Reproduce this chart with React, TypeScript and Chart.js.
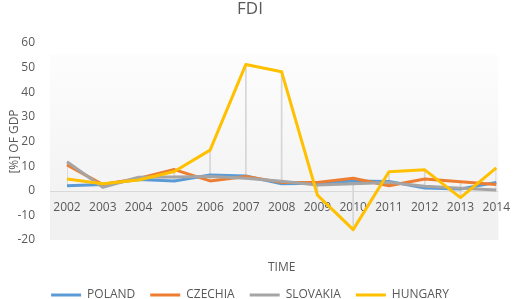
import React, { useEffect, useRef } from "react";
import { Chart, registerables } from "chart.js";

Chart.register(...registerables);

const years = ["2002", "2003", "2004", "2005", "2006", "2007", "2008", "2009", "2010", "2011", "2012", "2013", "2014"];
const poland = [2.0, 2.5, 4.6, 4.0, 6.4, 6.0, 2.8, 3.0, 4.0, 3.8, 1.1, 0.7, 3.4];
const czechia = [10.5, 2.5, 5.0, 8.6, 4.0, 5.8, 3.4, 3.4, 5.1, 2.0, 4.8, 3.7, 2.5];
const slovakia = [11.8, 1.4, 5.5, 5.6, 5.8, 5.1, 3.9, 2.3, 2.8, 3.4, 1.8, 1.0, 0.3];
const hungary = [4.8, 2.8, 4.4, 7.8, 16.5, 51.3, 48.3, -1.8, -15.8, 7.7, 8.5, -2.8, 9.3];
const yTicks = { min: -20, max: 60, step: 10 };

const TEXT = "#595959";
const FONT = "'Open Sans', 'Noto Sans', sans-serif";

const highLow = years.map((_, i) => {
  const v = [poland[i], czechia[i], slovakia[i], hungary[i]];
  return [Math.min(...v), Math.max(...v)];
});

const backgroundPlugin = {
  id: "plotBackground",
  beforeDraw(chart: any) {
    const { ctx, chartArea, scales } = chart;
    const left = chartArea.left - 17;
    const right = chartArea.right + 2;
    const top = chartArea.top + 11;
    const bottom = chartArea.bottom;
    const zeroY = scales.y.getPixelForValue(0);
    ctx.save();
    const g = ctx.createLinearGradient(0, top, 0, zeroY);
    g.addColorStop(0, "#fdfdfd");
    g.addColorStop(1, "#f3f3f3");
    ctx.fillStyle = g;
    ctx.fillRect(left, top, right - left, zeroY - top);
    ctx.fillStyle = "#f1f1f1";
    ctx.fillRect(left, zeroY, right - left, bottom - zeroY);
    ctx.strokeStyle = "#d9d9d9";
    ctx.lineWidth = 1;
    ctx.beginPath();
    ctx.moveTo(left, Math.round(zeroY) + 0.5);
    ctx.lineTo(right, Math.round(zeroY) + 0.5);
    ctx.stroke();
    ctx.restore();
  },
};

function lineDs(label: string, data: number[], color: string, order: number) {
  return {
    type: "line" as const,
    label,
    data,
    borderColor: color,
    backgroundColor: color,
    borderWidth: 3,
    pointRadius: 0,
    tension: 0,
    borderJoinStyle: "round" as const,
    fill: false,
    order,
  };
}

export default function App() {
  const ref = useRef<HTMLCanvasElement | null>(null);
  useEffect(() => {
    if (!ref.current) return;
    Chart.defaults.font.family = FONT;
    const chart = new Chart(ref.current, {
      type: "line",
      data: {
        labels: years,
        datasets: [
          lineDs("POLAND", poland, "#5B9BD5", 3),
          lineDs("CZECHIA", czechia, "#ED7D31", 2),
          lineDs("SLOVAKIA", slovakia, "#A5A5A5", 1),
          lineDs("HUNGARY", hungary, "#FFC000", 0),
          {
            type: "bar" as const,
            label: "high-low",
            data: highLow as any,
            backgroundColor: "#d6d6d6",
            borderWidth: 0,
            barThickness: 1,
            order: 10,
          } as any,
        ],
      },
      options: {
        animation: false,
        responsive: true,
        maintainAspectRatio: false,
        layout: { padding: { left: 0, right: 20, top: 0, bottom: -12 } },
        plugins: {
          title: {
            display: true,
            text: "FDI",
            color: TEXT,
            font: { family: FONT, size: 17, weight: "normal", lineHeight: 1 },
            padding: { top: 1, bottom: 25 },
          },
          subtitle: {
            display: true,
            text: "TIME",
            position: "bottom",
            fullSize: false,
            color: TEXT,
            font: { family: FONT, size: 12, weight: "normal", lineHeight: 1 },
            padding: { top: 22, bottom: 0 },
          } as any,
          legend: {
            position: "bottom",
            weight: 2000,
            labels: {
              usePointStyle: true,
              pointStyle: "line",
              pointStyleWidth: 30,
              padding: 15,
              color: TEXT,
              font: { family: FONT, size: 12 },
              filter: (item: any) => item.datasetIndex < 4,
              sort: (a: any, b: any) => a.datasetIndex - b.datasetIndex,
            },
          } as any,
          tooltip: { enabled: false },
        },
        scales: {
          x: {
            type: "category",
            position: { y: 0 } as any,
            offset: false,
            grid: { display: false, drawTicks: false },
            border: { display: false },
            ticks: {
              color: TEXT,
              font: { family: FONT, size: 12 },
              padding: 10,
              maxRotation: 0,
              autoSkip: false,
            },
          },
          y: {
            min: yTicks.min,
            max: yTicks.max,
            grid: { display: false, drawTicks: false },
            border: { display: false },
            ticks: {
              stepSize: yTicks.step,
              color: TEXT,
              font: { family: FONT, size: 12 },
              padding: 32,
            },
            title: {
              display: true,
              text: "[%] OF GDP",
              color: TEXT,
              font: { family: FONT, size: 12 },
              padding: { top: 7, bottom: 0 },
            },
            afterFit: (s: any) => {
              s.width = 67;
            },
          },
        },
      },
      plugins: [backgroundPlugin],
    });
    return () => chart.destroy();
  }, []);
  return (
    <div style={{ position: "absolute", left: 0, top: 0, width: 520, height: 299, background: "#fff" }}>
      <canvas ref={ref} />
    </div>
  );
}
